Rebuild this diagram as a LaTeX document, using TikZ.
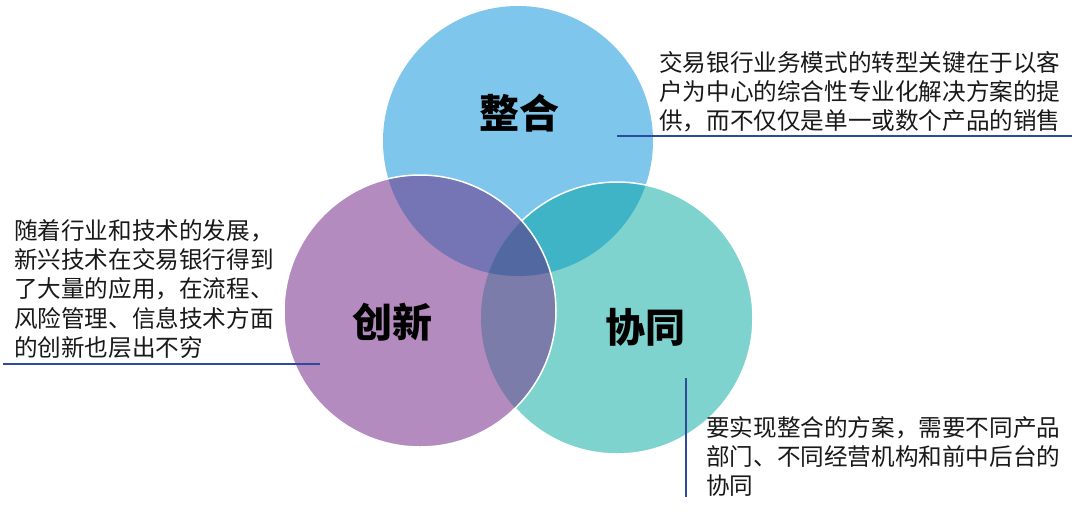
\documentclass[tikz,border=0pt]{standalone}
\usepackage{fontspec}
\newfontfamily\cjk{Noto Sans CJK SC}
\definecolor{cblue}{HTML}{7EC6EB}
\definecolor{cteal}{HTML}{7ED3CE}
\definecolor{cpurple}{HTML}{B38BBE}
\definecolor{cbp}{HTML}{7574B5}
\definecolor{cbt}{HTML}{3FB4C6}
\definecolor{cpt}{HTML}{7B7CA9}
\definecolor{cbpt}{HTML}{5168A1}
\definecolor{cline}{HTML}{2E4A9A}
\tikzset{
  desc/.style={anchor=north west, inner sep=0pt, align=left, font=\cjk\fontsize{23.6}{29.3}\selectfont, text=black!90},
  biglabel/.style={inner sep=0pt, font=\cjk\bfseries\fontsize{40}{44}\selectfont, text=black},
  rule/.style={draw=cline, line width=1.2pt},
  ring/.style={draw=white, line width=1.5pt}
}
\begin{document}
\begin{tikzpicture}[x=1pt,y=-1pt]
\fill[white] (0,0) rectangle (1080,512);
\useasboundingbox (0,0) rectangle (1080,512);
\def\B{(518,141) circle (135)}
\def\P{(420,311) circle (136)}
\def\T{(617,318) circle (136)}
\fill[cblue] \B;
\fill[cteal] \T;
\fill[cpurple] \P;
\begin{scope}\clip \B; \fill[cbp] \P; \fill[cbt] \T; \end{scope}
\begin{scope}\clip \P; \fill[cpt] \T; \end{scope}
\begin{scope}\clip \B; \clip \P; \fill[cbpt] \T; \end{scope}
\begin{scope}[even odd rule]
  \clip (0,0) rectangle (1080,512) \P;
  \draw[ring] \T;
\end{scope}
\draw[ring] \P;
\node[biglabel] (zh) at (519,113) {整合};
\node[biglabel] (cx) at (392,322) {创新};
\node[biglabel] (xt) at (645,327) {协同};
\node[desc] (t1) at (659,51) {交易银行业务模式的转型关键在于以客\\户为中心的综合性专业化解决方案的提\\供，而不仅仅是单一或数个产品的销售};
\node[desc] (t2) at (14,219) {随着行业和技术的发展，\\新兴技术在交易银行得到\\了大量的应用，在流程、\\风险管理、信息技术方面\\的创新也层出不穷};
\node[desc] (t3) at (706,416) {要实现整合的方案，需要不同产品\\部门、不同经营机构和前中后台的\\协同};
\coordinate (a1) at (617,136); \coordinate (a2) at (1072,136);
\coordinate (b1) at (3,364); \coordinate (b2) at (320,364);
\coordinate (c1) at (686,378); \coordinate (c2) at (686,497);
\draw[rule] (a1) -- (a2);
\draw[rule] (b1) -- (b2);
\draw[rule] (c1) -- (c2);
\end{tikzpicture}
\end{document}
